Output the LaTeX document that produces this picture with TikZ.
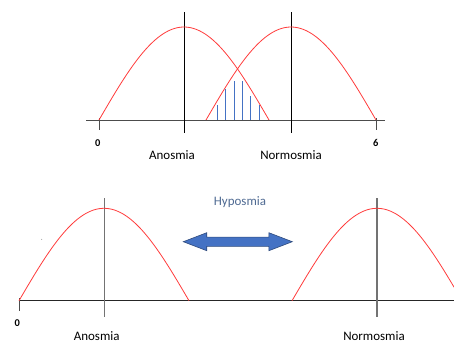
\documentclass[tikz,border=0pt]{standalone}
\usepackage{fontspec}
\setmainfont{Carlito}
\usetikzlibrary{shapes.arrows}
\definecolor{crvred}{HTML}{FF3B3B}
\definecolor{hatchblue}{HTML}{4472C4}
\definecolor{hypotext}{HTML}{4F6A92}
\definecolor{arrowedge}{HTML}{2F4B7C}
\tikzset{
  crv/.style ={draw=crvred, line width=0.8bp},
  axl/.style ={draw=black!70, line width=1bp},
  vln/.style ={draw=black, line width=1bp},
  vlg/.style ={draw=black!55, line width=1.3bp},
  hat/.style ={draw=hatchblue, line width=1bp},
  lbl/.style ={font=\fontsize{13}{15}\selectfont, inner sep=0pt},
  num/.style ={font=\fontsize{10.5}{12}\selectfont\bfseries, inner sep=0pt},
}

\begin{document}
\begin{tikzpicture}[x=1bp, y=-1bp]
\useasboundingbox (0,0) rectangle (454,343);

% upper plot: overlapping curves
\draw[axl] (86,120) -- (385,120);
\draw[axl] (99.3,118) -- (99.3,130);
\draw[axl] (376,118) -- (376,130);
\draw[vln] (184.3,12) -- (184.3,133);
\draw[vln] (291,12) -- (291,133);
\draw[crv] plot[domain=99:269, samples=80] (\x, {120-93*sin((\x-99)/170*180)});
\draw[crv] plot[domain=206:376, samples=80] (\x, {120-93*sin((\x-206)/170*180)});

% shaded overlap
\foreach \hx/\hy in {217.3/105, 225.7/89.3, 234/81, 242.3/81, 250.7/95.7, 259.3/105.3}
  \draw[hat] (\hx,120) -- (\hx,\hy);

\node[num] (tzero) at (97.7,143) {0};
\node[num] (tsix) at (375.7,143) {6};
\node[lbl] (tanos) at (172,155) {Anosmia};
\node[lbl] (tnorm) at (291,155) {Normosmia};

% lower plot: separated curves
\draw[axl, draw=black!85] (19,300.7) -- (454,300.7);
\draw[axl] (19.3,298) -- (19.3,310.7);
\draw[vlg] (104.3,198) -- (104.3,316.7);
\draw[vlg] (377,198) -- (377,316.7);
\draw[crv] plot[domain=19:189, samples=80] (\x, {300.7-92.4*sin((\x-19)/170*180)});
\draw[crv] plot[domain=292:454, samples=80] (\x, {300.7-92.4*sin((\x-292)/170*180)});
\fill[black!45] (41.7,239.3) circle (0.5bp);

\node[lbl, text=hypotext] (hypo) at (240,202) {Hyposmia};
\node[double arrow, draw=arrowedge, fill=hatchblue, line width=0.6bp,
      minimum height=109bp, inner xsep=0pt, inner ysep=4.3bp,
      double arrow head extend=4.4bp, double arrow tip angle=42]
      (harrow) at (237.8,241.7) {};

\node[num] (bzero) at (17.3,322.7) {0};
\node[lbl] (banos) at (96.7,336) {Anosmia};
\node[lbl] (bnorm) at (374,336) {Normosmia};
\end{tikzpicture}
\end{document}
